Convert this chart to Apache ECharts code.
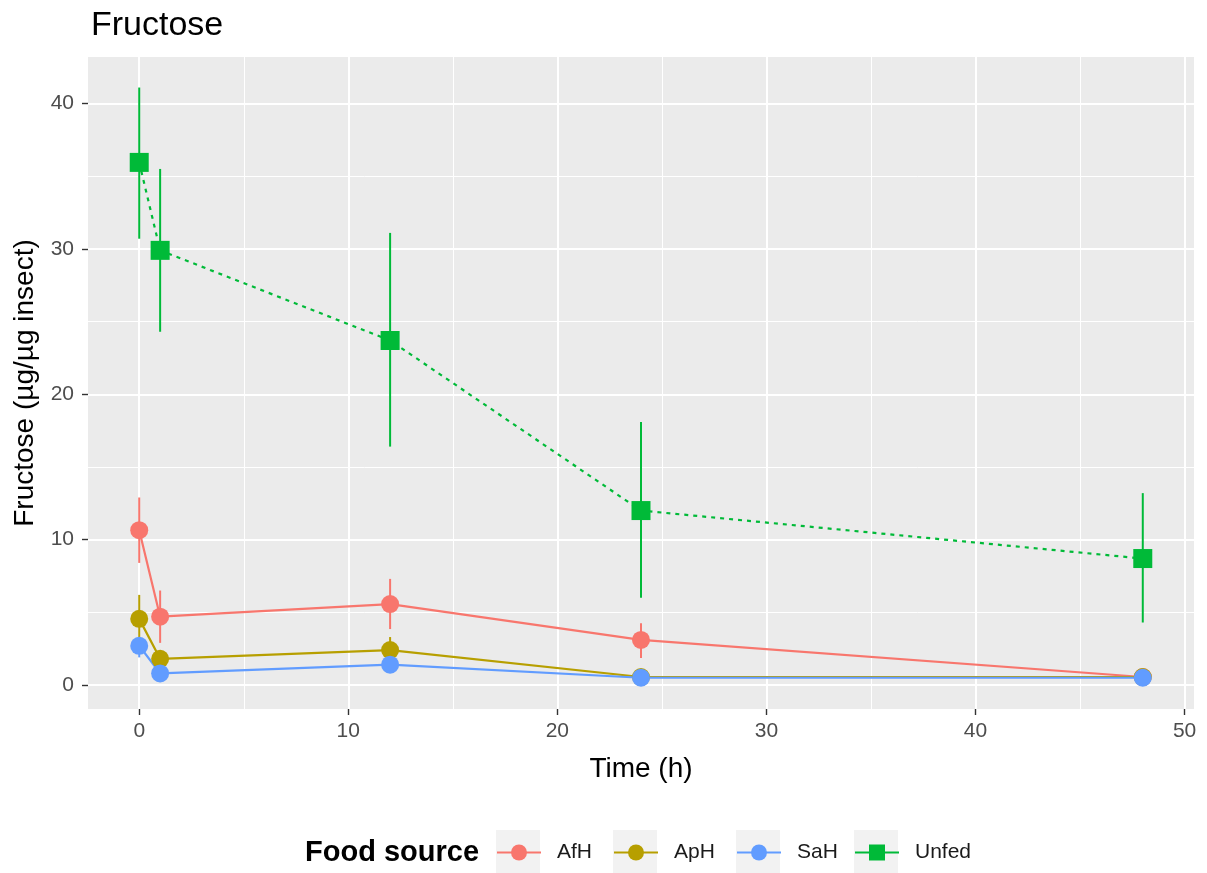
<!DOCTYPE html>
<html>
<head>
<meta charset="utf-8">
<title>Fructose</title>
<script src="https://cdn.jsdelivr.net/npm/echarts@6/dist/echarts.min.js"></script>
<style>
  html, body { margin: 0; padding: 0; background: #fff; }
  #chart { width: 1207px; height: 873px; }
</style>
</head>
<body>
<div id="chart"></div>
<script>
// time points (h)
const times = [0, 1, 12, 24, 48]
const groups = ['AfH', 'ApH', 'SaH', 'Unfed']
const colors = ['#F8766D', '#B79F00', '#619CFF', '#00BA38']

// means (µg/µg insect)
const afhMean = [10.65, 4.7, 5.57, 3.1, 0.55]
const aphMean = [4.55, 1.8, 2.4, 0.55, 0.55]
const sahMean = [2.7, 0.8, 1.4, 0.5, 0.5]
const unfedMean = [35.95, 29.9, 23.7, 12.0, 8.7]

// error bar limits
const afhLow = [8.4, 2.9, 3.85, 1.85, 0.4]
const afhHigh = [12.9, 6.5, 7.3, 4.25, 0.7]
const aphLow = [3.0, 1.4, 1.5, 0.4, 0.4]
const aphHigh = [6.2, 2.2, 3.3, 0.7, 0.7]
const sahLow = [1.9, 0.6, 1.1, 0.35, 0.35]
const sahHigh = [3.3, 1.0, 1.7, 0.65, 0.65]
const unfedLow = [30.7, 24.3, 16.4, 6.0, 4.3]
const unfedHigh = [41.1, 35.5, 31.1, 18.1, 13.2]

const xMajor = [0, 10, 20, 30, 40, 50]
const xMinor = [5, 15, 25, 35, 45]
const yMajor = [0, 10, 20, 30, 40]
const yMinor = [5, 15, 25, 35]

const means = [afhMean, aphMean, sahMean, unfedMean]
const lows = [afhLow, aphLow, sahLow, unfedLow]
const highs = [afhHigh, aphHigh, sahHigh, unfedHigh]

// left edge of each legend key box
const legendKeyX = [496, 613, 736, 854]

const chart = echarts.init(document.getElementById('chart'))
const font = 'Liberation Sans, Arial, sans-serif'

function errorSeries (i) {
  return {
    name: groups[i] + ' error',
    type: 'custom',
    xAxisIndex: 0,
    yAxisIndex: 0,
    z: 3,
    silent: true,
    data: times.map((t, k) => [t, lows[i][k], highs[i][k]]),
    renderItem (params, api) {
      const a = api.coord([api.value(0), api.value(1)])
      const b = api.coord([api.value(0), api.value(2)])
      return {
        type: 'line',
        shape: { x1: a[0], y1: a[1], x2: b[0], y2: b[1] },
        style: { stroke: colors[i], lineWidth: 2 }
      }
    }
  }
}

function lineSeries (i) {
  const unfed = groups[i] === 'Unfed'
  return {
    name: groups[i],
    type: 'line',
    xAxisIndex: 0,
    yAxisIndex: 0,
    z: 4,
    symbol: unfed ? 'rect' : 'circle',
    symbolSize: unfed ? 19 : 18,
    showAllSymbol: true,
    color: colors[i],
    itemStyle: { color: colors[i] },
    lineStyle: { color: colors[i], width: 2.2, type: unfed ? [4, 5] : 'solid' },
    emphasis: { disabled: true },
    data: times.map((t, k) => [t, means[i][k]])
  }
}

const axisLabelStyle = { color: '#4D4D4D', fontSize: 21, fontFamily: font }
const tickStyle = { color: '#333', width: 1.4 }

const option = {
  animation: false,
  textStyle: { fontFamily: font },
  title: {
    text: 'Fructose',
    left: 86,
    top: 4,
    textStyle: { fontSize: 34, fontWeight: 'normal', color: '#000', fontFamily: font }
  },
  grid: {
    left: 88,
    right: 13,
    top: 57,
    bottom: 164,
    show: true,
    backgroundColor: '#EBEBEB',
    borderWidth: 0
  },
  xAxis: [
    {
      type: 'value',
      min: -2.45,
      max: 50.45,
      name: 'Time (h)',
      nameLocation: 'middle',
      nameGap: 46,
      nameTextStyle: { fontSize: 28, color: '#000', fontFamily: font },
      axisLine: { show: false, onZero: false },
      axisTick: { show: true, length: 6, customValues: xMajor, lineStyle: tickStyle },
      axisLabel: { ...axisLabelStyle, margin: 12, customValues: xMajor },
      splitLine: { show: true, lineStyle: { color: '#fff', width: 2 } }
    },
    {
      type: 'value',
      min: -2.45,
      max: 50.45,
      axisLine: { show: false, onZero: false },
      axisTick: { show: false, customValues: xMinor },
      axisLabel: { show: false, customValues: xMinor },
      splitLine: { show: true, lineStyle: { color: '#fff', width: 1 } }
    }
  ],
  yAxis: [
    {
      type: 'value',
      min: -1.65,
      max: 43.2,
      name: 'Fructose (µg/µg insect)',
      nameLocation: 'middle',
      nameGap: 47,
      nameTextStyle: { fontSize: 28, color: '#000', fontFamily: font },
      axisLine: { show: false, onZero: false },
      axisTick: { show: true, length: 6, customValues: yMajor, lineStyle: tickStyle },
      axisLabel: { ...axisLabelStyle, margin: 14, customValues: yMajor },
      splitLine: { show: true, lineStyle: { color: '#fff', width: 2 } }
    },
    {
      type: 'value',
      min: -1.65,
      max: 43.2,
      axisLine: { show: false, onZero: false },
      axisTick: { show: false, customValues: yMinor },
      axisLabel: { show: false, customValues: yMinor },
      splitLine: { show: true, lineStyle: { color: '#fff', width: 1 } }
    }
  ],
  legend: groups.map((g, i) => ({
    data: [g],
    left: legendKeyX[i],
    top: 842,
    padding: 0,
    itemWidth: 44,
    itemHeight: 20,
    z: 10,
    selectedMode: false,
    lineStyle: { type: 'solid', width: 2 },
    textStyle: { fontSize: 21, color: '#1A1A1A', fontFamily: font, padding: [0, 0, 0, 11] }
  })),
  graphic: [
    {
      type: 'text',
      x: 305,
      y: 853,
      style: { text: 'Food source', font: 'bold 29px ' + font, fill: '#000', verticalAlign: 'middle' }
    },
    ...legendKeyX.map(x => ({
      type: 'rect',
      z: -10,
      shape: { x: x, y: 830, width: 44, height: 44 },
      style: { fill: '#F2F2F2' }
    }))
  ],
  series: [
    ...groups.map((g, i) => errorSeries(i)),
    ...groups.map((g, i) => lineSeries(i))
  ]
}

chart.setOption(option)
</script>
</body>
</html>
